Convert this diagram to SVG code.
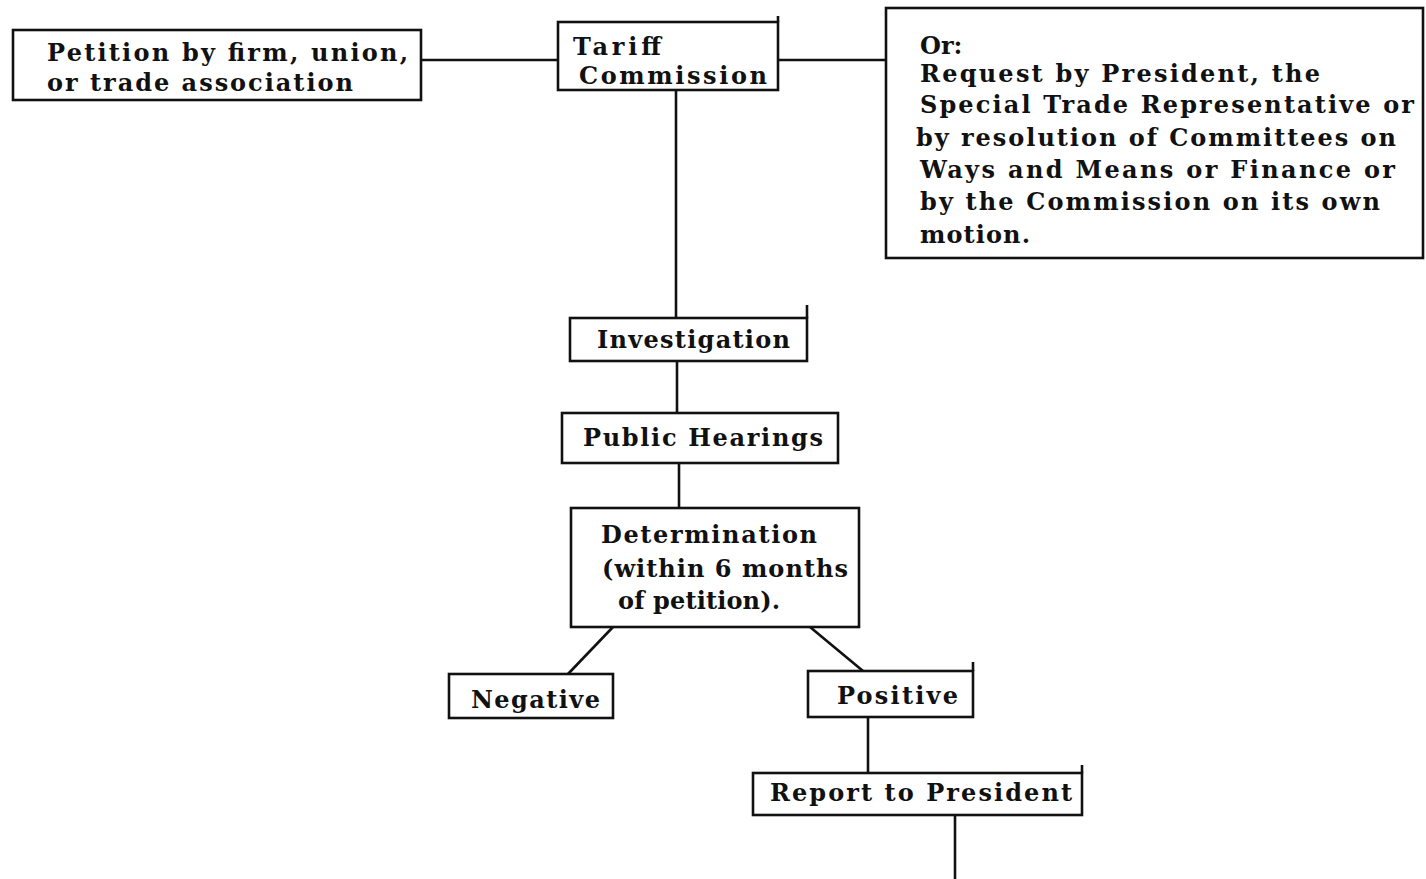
<svg xmlns="http://www.w3.org/2000/svg" width="1426" height="879" viewBox="0 0 1426 879">
<style>
.box{fill:#fff;stroke:#111;stroke-width:2.6}
.ln{stroke:#111;stroke-width:2.6;fill:none}
text{font-family:"DejaVu Serif","Liberation Serif",serif;font-weight:bold;font-size:24px;fill:#111}
</style>
<rect width="1426" height="879" fill="#fff"/>
<g id="connectors">
<line class="ln" x1="421" y1="60" x2="558" y2="60"/>
<line class="ln" x1="778" y1="60" x2="886" y2="60"/>
<line class="ln" x1="676" y1="90" x2="676" y2="318"/>
<line class="ln" x1="677" y1="361" x2="677" y2="413"/>
<line class="ln" x1="679" y1="463" x2="679" y2="508"/>
<line class="ln" x1="613" y1="627" x2="568" y2="674"/>
<line class="ln" x1="810" y1="627" x2="863" y2="671"/>
<line class="ln" x1="868" y1="717" x2="868" y2="773"/>
<line class="ln" x1="955" y1="815" x2="955" y2="879"/>
</g>
<g id="petition">
<rect class="box" x="13" y="30" width="408" height="70"/>
<text x="47" y="61" textLength="361" lengthAdjust="spacing">Petition by firm, union,</text>
<text x="47" y="91" textLength="306" lengthAdjust="spacing">or trade association</text>
</g>
<g id="tariff">
<rect class="box" x="558" y="22" width="220" height="68"/>
<line class="ln" x1="778" y1="16" x2="778" y2="22"/>
<text x="573" y="55" textLength="88" lengthAdjust="spacing">Tariff</text>
<text x="579" y="84" textLength="188" lengthAdjust="spacing">Commission</text>
</g>
<g id="or-request">
<rect class="box" x="886" y="8" width="537" height="250"/>
<text x="920" y="54">Or:</text>
<text x="920" y="82" textLength="400" lengthAdjust="spacing">Request by President, the</text>
<text x="920" y="113" textLength="494" lengthAdjust="spacing">Special Trade Representative or</text>
<text x="916" y="146" textLength="480" lengthAdjust="spacing">by resolution of Committees on</text>
<text x="920" y="178" textLength="475" lengthAdjust="spacing">Ways and Means or Finance or</text>
<text x="920" y="210" textLength="460" lengthAdjust="spacing">by the Commission on its own</text>
<text x="920" y="243" textLength="110" lengthAdjust="spacing">motion.</text>
</g>
<g id="investigation">
<rect class="box" x="570" y="318" width="237" height="43"/>
<line class="ln" x1="807" y1="305" x2="807" y2="318"/>
<text x="597" y="348" textLength="193" lengthAdjust="spacing">Investigation</text>
</g>
<g id="public-hearings">
<rect class="box" x="562" y="413" width="276" height="50"/>
<text x="583" y="446" textLength="240" lengthAdjust="spacing">Public Hearings</text>
</g>
<g id="determination">
<rect class="box" x="571" y="508" width="288" height="119"/>
<text x="601" y="543" textLength="216" lengthAdjust="spacing">Determination</text>
<text x="602" y="577" textLength="246" lengthAdjust="spacing">(within 6 months</text>
<text x="618" y="609" textLength="162" lengthAdjust="spacing">of petition).</text>
</g>
<g id="negative">
<rect class="box" x="449" y="674" width="164" height="44"/>
<text x="471" y="708" textLength="129" lengthAdjust="spacing">Negative</text>
</g>
<g id="positive">
<rect class="box" x="808" y="671" width="165" height="46"/>
<line class="ln" x1="973" y1="662" x2="973" y2="671"/>
<text x="837" y="704" textLength="121" lengthAdjust="spacing">Positive</text>
</g>
<g id="report">
<rect class="box" x="753" y="773" width="329" height="42"/>
<line class="ln" x1="1082" y1="765" x2="1082" y2="773"/>
<text x="770" y="801" textLength="302" lengthAdjust="spacing">Report to President</text>
</g>
</svg>
